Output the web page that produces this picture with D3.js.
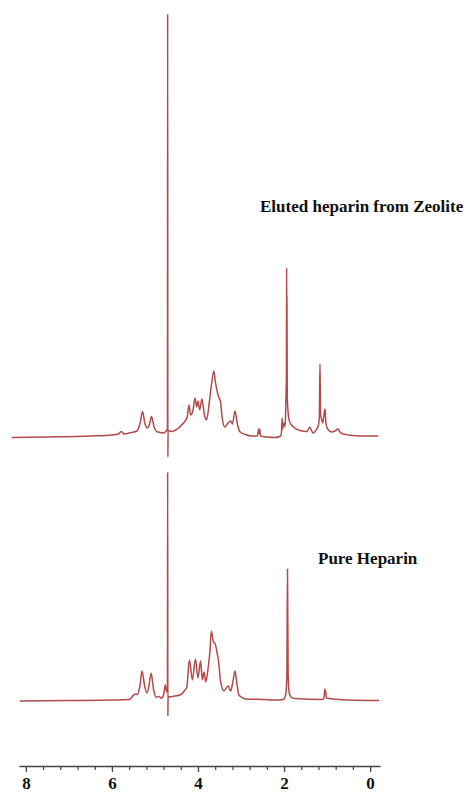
<!DOCTYPE html>
<html>
<head>
<meta charset="utf-8">
<script src="https://cdn.jsdelivr.net/npm/d3@7"></script>
<style>
  html, body { margin: 0; padding: 0; background: #fff; }
  svg { display: block; }
</style>
</head>
<body>
<svg id="chart" width="467" height="793"></svg>
<script>
// 1H NMR spectra: chemical shift (ppm) and intensity (arbitrary units)

// Eluted heparin from zeolite
const elutedPpm = [
  8.33, 7.5, 6.5, 6.0, 5.85, 5.78, 5.72, 5.55, 5.42, 5.34, 5.29, 5.23, 5.17, 5.12, 5.08, 5.02,
  4.96, 4.88, 4.80, 4.74, 4.71, 4.705, 4.70, 4.695, 4.66, 4.60, 4.52, 4.45, 4.38, 4.30, 4.25,
  4.21, 4.17, 4.12, 4.07, 4.03, 4.00, 3.96, 3.91, 3.85, 3.80, 3.75, 3.70, 3.63, 3.60, 3.56,
  3.52, 3.48, 3.44, 3.38, 3.30, 3.24, 3.20, 3.14, 3.08, 3.02, 2.90, 2.75, 2.62, 2.59, 2.575,
  2.565, 2.55, 2.40, 2.20, 2.08, 2.06, 2.045, 2.03, 2.015, 1.99, 1.975, 1.955, 1.945, 1.94,
  1.936, 1.933, 1.925, 1.90, 1.87, 1.78, 1.63, 1.47, 1.40, 1.33, 1.24, 1.20, 1.18, 1.165,
  1.15, 1.14, 1.10, 1.06, 1.045, 1.03, 1.00, 0.90, 0.82, 0.75, 0.68, 0.50, 0.20, -0.19
];
const elutedIntensity = [
  -0.5, 0, 1, 2, 3, 5.5, 3, 4.5, 6, 15, 25.5, 13, 9, 14, 20.5, 10,
  5.5, 4.5, 4, 6, 8, 423, -20, 6, 6, 5.5, 7, 9, 12, 16, 20,
  32, 22, 26, 39, 30, 36, 27, 38, 22, 17, 30, 48, 66, 56, 47,
  40, 36, 20, 10, 14, 16, 13, 26, 12, 5, 2.5, 1, 1, 8, 3,
  8, 1, 0, -0.5, 1, 5, 19, 8, 14, 12, 10, 40, 60, 169,
  100, 140, 40, 22, 15, 10, 6.5, 5.5, 10, 4, 8, 12, 20, 73,
  22, 20, 14, 26, 28, 15, 9, 5, 6, 8, 4, 2, 1, 1
];

// Pure heparin
const purePpm = [
  8.14, 7.0, 6.0, 5.60, 5.48, 5.40, 5.35, 5.30, 5.24, 5.19, 5.14, 5.09, 5.03, 4.97, 4.90,
  4.85, 4.80, 4.76, 4.73, 4.71, 4.705, 4.70, 4.695, 4.61, 4.55, 4.42, 4.30, 4.26, 4.20,
  4.13, 4.06, 4.00, 3.94, 3.90, 3.86, 3.82, 3.77, 3.72, 3.69, 3.64, 3.60, 3.555, 3.52,
  3.48, 3.43, 3.40, 3.30, 3.24, 3.19, 3.14, 3.10, 3.05, 2.99, 2.90, 2.50, 2.10, 2.00,
  1.96, 1.935, 1.92, 1.905, 1.88, 1.84, 1.75, 1.10, 1.07, 1.05, 1.04, 1.03, 1.02, 0.50, -0.21
];
const pureIntensity = [
  -1, -0.5, 0, 0.5, 5.5, 6, 14, 29, 14, 7, 14, 26.7, 10, 2.7, 3.5,
  1.7, 5, 15, 8, 10, 228, -16, 3, 3.3, 4, 5, 10, 13, 40,
  20, 41, 22, 39, 20, 28, 18, 30, 50, 69, 58, 56, 47, 38,
  20, 11, 9, 14, 9, 18, 29, 18, 5, 3, 1, 0.5, 0, 1,
  6, 25, 131, 25, 7, 3, 1.5, 0.5, 3, 11, 6, 9, 2, 0, -0.5
];

const labelEluted = "Eluted heparin from Zeolite";
const labelPure = "Pure Heparin";
const majorTicks = [8, 6, 4, 2, 0];
const minorTicks = d3.range(0, 8.01, 0.4);

const svg = d3.select("#chart");
const serif = "'Liberation Serif', 'DejaVu Serif', serif";

// chemical shift axis runs right-to-left
const x = d3.scaleLinear().domain([8.16, -0.23]).range([19, 380]);

// shared intensity scale; each trace sits on its own baseline
const yUnit = d3.scaleLinear().domain([0, 100]).range([0, 100]);
function trace(ppm, inten, baseline) {
  const pts = ppm.map((p, i) => [x(p), baseline - yUnit(inten[i])]);
  return d3.line().curve(d3.curveMonotoneX)(pts);
}

const lineColor = "#a52a2a";
const traces = svg.append("g").attr("fill", "none")
  .attr("stroke", lineColor).attr("stroke-width", 1.5)
  .attr("stroke-opacity", 0.85).attr("stroke-linejoin", "round");

traces.append("path").attr("d", trace(elutedPpm, elutedIntensity, 437));
traces.append("path").attr("d", trace(purePpm, pureIntensity, 700));

// trace captions
svg.append("text").attr("x", 260).attr("y", 212).text(labelEluted)
  .attr("font-family", serif)
  .attr("font-weight", "bold").attr("font-size", 17).attr("fill", "#111");
svg.append("text").attr("x", 318).attr("y", 564).text(labelPure)
  .attr("font-family", serif)
  .attr("font-weight", "bold").attr("font-size", 17).attr("fill", "#111");

// ppm axis: minor ticks, then labelled major ticks
const axisY = 766;
const minorAxis = svg.append("g").attr("transform", `translate(0,${axisY})`)
  .call(d3.axisBottom(x).tickValues(minorTicks).tickSize(4).tickSizeOuter(0).tickFormat(""));
const majorAxis = svg.append("g").attr("transform", `translate(0,${axisY})`)
  .call(d3.axisBottom(x).tickValues(majorTicks).tickSize(6).tickSizeOuter(0).tickPadding(5)
    .tickFormat(d3.format("d")));
majorAxis.select(".domain").remove();
minorAxis.select(".domain").attr("stroke", "#444").attr("stroke-width", 1.6);
svg.selectAll(".tick line").attr("stroke", "#444").attr("stroke-width", 1.2);
majorAxis.selectAll(".tick text")
  .attr("font-family", serif)
  .attr("font-weight", "bold").attr("font-size", 17).attr("fill", "#111");
</script>
</body>
</html>
